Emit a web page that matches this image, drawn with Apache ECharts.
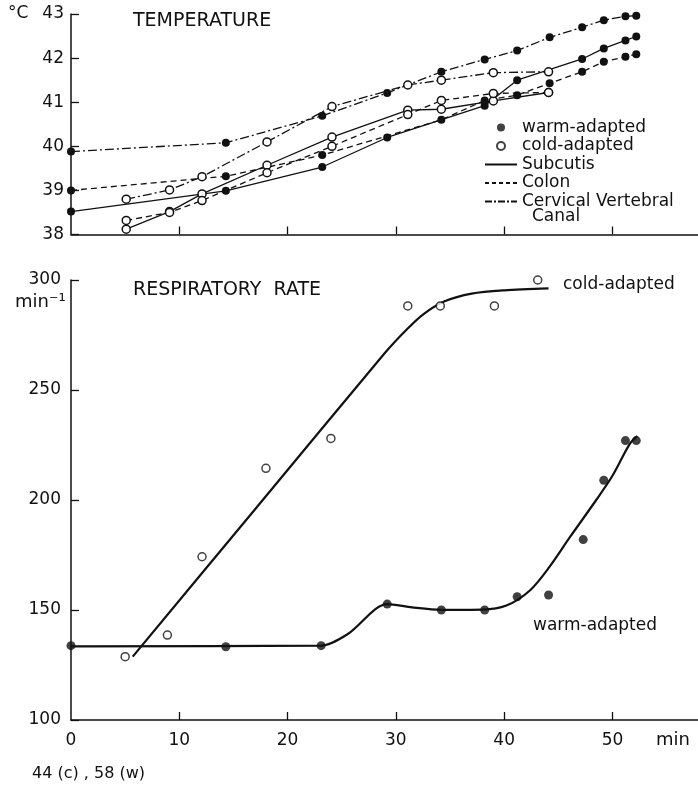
<!DOCTYPE html>
<html lang="en">
<head>
    <meta charset="UTF-8">
    <title>Temperature and respiratory rate</title>
    <script src="https://cdn.jsdelivr.net/npm/echarts@6.0.0/dist/echarts.min.js"></script>
    <style>
        html, body { margin: 0; padding: 0; background: #fff; }
    </style>
</head>
<body>
<div id="main" style="width: 698px;height:786px;"></div>
</body>
<script type="text/javascript">

    // --- temperature (upper panel), °C against min ---
    var warmTime     = [0, 14.3, 23.2, 29.2, 34.2, 38.2, 41.2, 44.2, 47.2, 49.2, 51.2, 52.2];
    var warmSubcutis = [38.52, 38.99, 39.53, 40.20, null, 40.92, 41.50, null, 41.98, 42.22, 42.40, 42.49];
    var warmColon    = [39.00, 39.32, 39.80, null, 40.60, 41.04, 41.16, 41.43, 41.69, 41.92, 42.03, 42.09];
    var warmCervical = [39.88, 40.08, 40.69, 41.21, 41.69, 41.97, 42.17, 42.47, 42.70, 42.86, 42.95, 42.96];

    var coldTime     = [5.1, 9.1, 12.1, 18.1, 24.1, 31.1, 34.2, 39.0, 44.1];
    var coldSubcutis = [38.12, 38.52, 38.92, 39.57, 40.21, 40.82, 40.84, 41.03, 41.22];
    var coldColon    = [38.32, 38.50, 38.77, 39.40, 40.00, 40.72, 41.04, 41.20, 41.22];
    var coldCervical = [38.80, 39.01, 39.31, 40.10, 40.90, 41.39, 41.50, 41.67, 41.69];

    // --- respiratory rate (lower panel), min^-1 against min ---
    var respWarmTime = [0, 14.3, 23.1, 29.2, 34.2, 38.2, 41.2, 44.1, 47.3, 49.2, 51.2, 52.2];
    var respWarm     = [133.8, 133.3, 133.8, 152.7, 150, 150, 156, 156.8, 182, 209, 227, 227];
    var respColdTime = [5.0, 8.9, 12.1, 18.0, 24.0, 31.1, 34.1, 39.1, 43.1];
    var respCold     = [128.8, 138.6, 174.2, 214.4, 228, 288.2, 288.2, 288.2, 300];

    // hand-drawn fit curves
    var fitWarmTime = [0, 23.1, 25.6, 29.2, 31.5, 34.2, 38, 40.2, 42.4, 44.2, 46.1, 48.5, 50, 51.6, 52.3];
    var fitWarm     = [133.5, 133.8, 139.2, 152.7, 151.2, 150.1, 150.2, 152, 159, 169.7, 183.3, 200, 211, 225.5, 229];
    var fitColdTime = [5.7, 17, 29, 31, 32.5, 34.5, 37, 40, 44.1];
    var fitCold     = [128.8, 195.8, 266.9, 277.5, 284.3, 290.3, 293.8, 295.3, 296.2];

    var xTickLabels = [0, 10, 20, 30, 40, 50];
    var xTicks = [10, 20, 30, 40, 50];

    var ink = '#111';
    var font = 'DejaVu Sans';
    var dashColon = [6, 4];
    var dashCervical = [9, 3, 2, 3];

    function zip(xs, ys) {
        var out = [];
        for (var i = 0; i < xs.length; i++) {
            out.push([xs[i], ys[i]]);
        }
        return out;
    }

    function tempLine(name, xs, ys, dash, warm) {
        return {
            name: name,
            type: 'line',
            xAxisIndex: 0,
            yAxisIndex: 0,
            data: zip(xs, ys),
            connectNulls: true,
            symbol: 'circle',
            symbolSize: 8,
            lineStyle: {color: ink, width: 1.3, type: dash},
            itemStyle: warm ? {color: ink} : {color: '#fff', borderColor: ink, borderWidth: 1.5},
            z: warm ? 3 : 4
        };
    }

    function legendLine(name, dash) {
        return {
            name: name, type: 'line', data: [], symbol: 'none',
            lineStyle: {color: ink, width: 1.3, type: dash},
            itemStyle: {color: ink, opacity: 0}
        };
    }

    var myChart = echarts.init(document.getElementById('main'));

    var axisLine = {lineStyle: {color: ink, width: 1.5}};
    var axisTick = {inside: true, length: 8, lineStyle: {color: ink, width: 1.3}};
    var labelStyle = {color: ink, fontSize: 17, fontFamily: font};

    option = {
        animation: false,
        backgroundColor: '#fff',
        title: [
            {text: 'TEMPERATURE', left: 128, top: 7,
                textStyle: {color: ink, fontSize: 19, fontWeight: 'normal', fontFamily: font}},
            {text: 'RESPIRATORY  RATE', left: 128, top: 276,
                textStyle: {color: ink, fontSize: 19, fontWeight: 'normal', fontFamily: font}}
        ],
        legend: {
            orient: 'vertical',
            left: 484,
            top: 119,
            padding: 0,
            itemWidth: 32,
            itemHeight: 8,
            itemGap: 1.5,
            selectedMode: false,
            data: ['warm-adapted', 'cold-adapted', 'Subcutis', 'Colon', 'Cervical Vertebral'],
            textStyle: {color: ink, fontSize: 17, lineHeight: 16, fontFamily: font}
        },
        grid: [
            {left: 71, top: 14, width: 627, height: 220.5},
            {left: 71, top: 280, width: 627, height: 440}
        ],
        xAxis: [
            {gridIndex: 0, type: 'value', min: 0, max: 57.9,
                axisLine: axisLine, splitLine: {show: false},
                axisTick: Object.assign({customValues: xTicks}, axisTick),
                axisLabel: {show: false}},
            {gridIndex: 1, type: 'value', min: 0, max: 57.9,
                axisLine: axisLine, splitLine: {show: false},
                axisTick: Object.assign({customValues: xTicks}, axisTick),
                axisLabel: Object.assign({customValues: xTickLabels, margin: 12}, labelStyle)}
        ],
        yAxis: [
            {gridIndex: 0, type: 'value', min: 38, max: 43, interval: 1,
                axisLine: axisLine, splitLine: {show: false}, axisTick: axisTick,
                axisLabel: Object.assign({margin: 7}, labelStyle)},
            {gridIndex: 1, type: 'value', min: 100, max: 300, interval: 50,
                axisLine: axisLine, splitLine: {show: false}, axisTick: axisTick,
                axisLabel: Object.assign({margin: 10}, labelStyle)}
        ],
        graphic: [
            {type: 'text', left: 8, top: 5, style: {text: '°C', fill: ink, font: '17px "DejaVu Sans"'}},
            {type: 'text', left: 15, top: 293, style: {text: 'min⁻¹', fill: ink, font: '18px "DejaVu Sans"'}},
            {type: 'text', left: 532, top: 208, style: {text: 'Canal', fill: ink, font: '17px "DejaVu Sans"'}},
            {type: 'text', left: 563, top: 276, style: {text: 'cold-adapted', fill: ink, font: '17px "DejaVu Sans"'}},
            {type: 'text', left: 533, top: 617, style: {text: 'warm-adapted', fill: ink, font: '17px "DejaVu Sans"'}},
            {type: 'text', left: 656, top: 731, style: {text: 'min', fill: ink, font: '18px "DejaVu Sans"'}},
            {type: 'text', left: 32, top: 766, style: {text: '44 (c) , 58 (w)', fill: ink, font: '16px "DejaVu Sans"'}}
        ],
        series: [
            tempLine('warm Subcutis', warmTime, warmSubcutis, 'solid', true),
            tempLine('warm Colon', warmTime, warmColon, dashColon, true),
            tempLine('warm Cervical', warmTime, warmCervical, dashCervical, true),
            tempLine('cold Subcutis', coldTime, coldSubcutis, 'solid', false),
            tempLine('cold Colon', coldTime, coldColon, dashColon, false),
            tempLine('cold Cervical', coldTime, coldCervical, dashCervical, false),
            {
                name: 'fit warm', type: 'line', xAxisIndex: 1, yAxisIndex: 1,
                data: zip(fitWarmTime, fitWarm), symbol: 'none', smooth: 0.3,
                lineStyle: {color: ink, width: 2.2}
            },
            {
                name: 'fit cold', type: 'line', xAxisIndex: 1, yAxisIndex: 1,
                data: zip(fitColdTime, fitCold), symbol: 'none', smooth: 0.3,
                lineStyle: {color: ink, width: 2.2}
            },
            {
                name: 'resp warm', type: 'scatter', xAxisIndex: 1, yAxisIndex: 1,
                data: zip(respWarmTime, respWarm), symbol: 'circle', symbolSize: 9,
                itemStyle: {color: ink}, z: 4
            },
            {
                name: 'resp cold', type: 'scatter', xAxisIndex: 1, yAxisIndex: 1,
                data: zip(respColdTime, respCold), symbol: 'circle', symbolSize: 8,
                itemStyle: {color: '#fff', borderColor: ink, borderWidth: 1.5}, z: 4
            },
            // legend entries only
            {name: 'warm-adapted', type: 'scatter', data: [], symbol: 'circle',
                itemStyle: {color: ink}},
            {name: 'cold-adapted', type: 'scatter', data: [], symbol: 'circle',
                itemStyle: {color: '#fff', borderColor: ink, borderWidth: 1.5}},
            legendLine('Subcutis', 'solid'),
            legendLine('Colon', [4, 3]),
            legendLine('Cervical Vertebral', [7, 2, 2, 2])
        ]
    };
    myChart.setOption(option);

</script>
</html>
